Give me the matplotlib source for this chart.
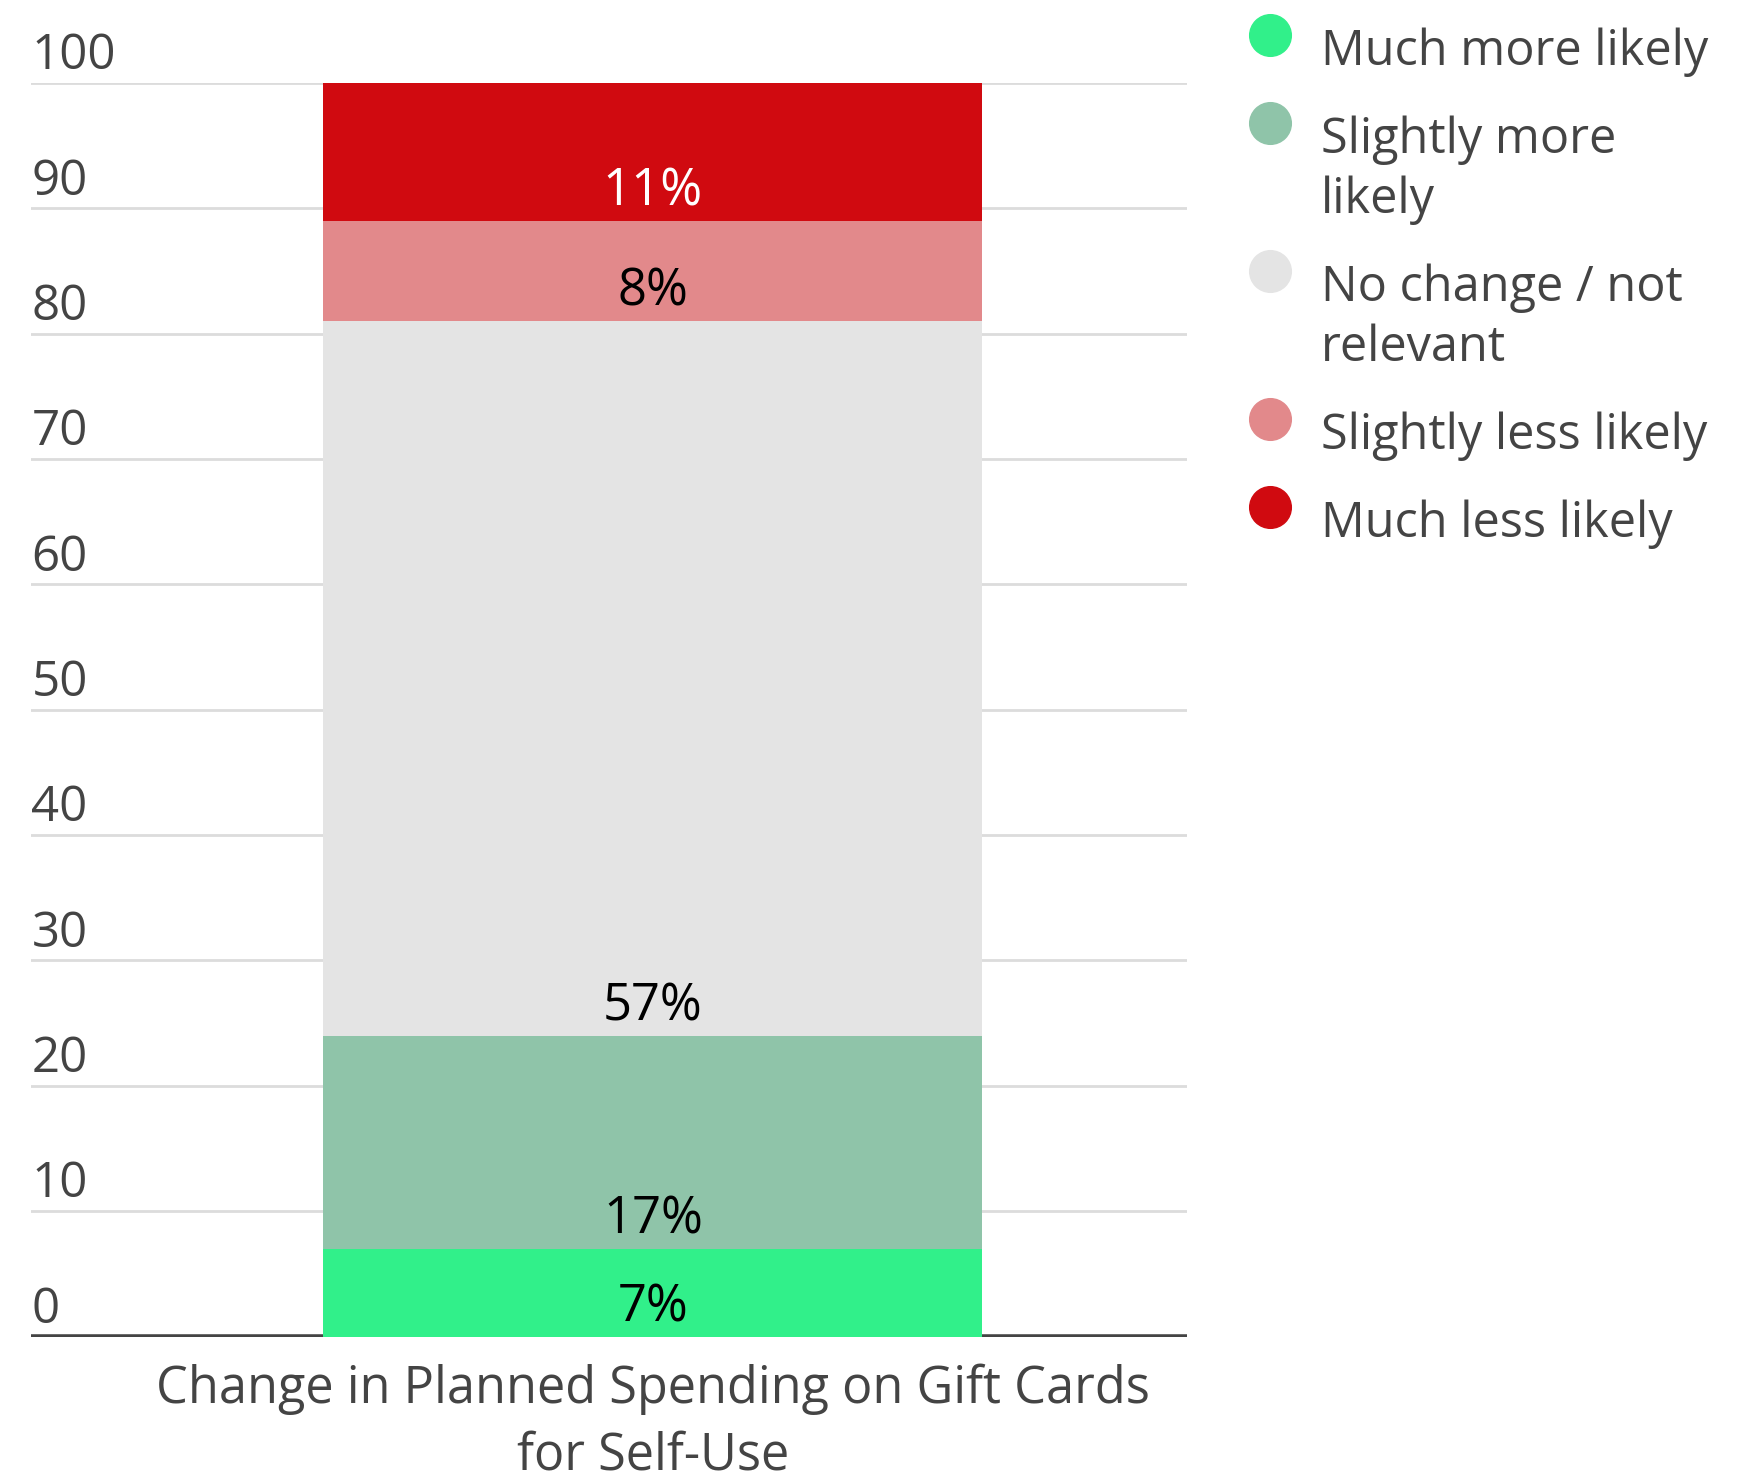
import matplotlib.pyplot as plt
from matplotlib import transforms

plt.rcParams['font.family'] = ['Open Sans', 'DejaVu Sans']

# Survey response shares (percent), stacked bottom to top
responses = ['Much more likely', 'Slightly more\nlikely', 'No change / not\nrelevant',
             'Slightly less likely', 'Much less likely']
shares = [7, 17, 57, 8, 11]
colors = ['#31F08A', '#8FC4A9', '#E4E4E4', '#E2898B', '#D00A10']
label_colors = ['black', 'black', 'black', 'black', 'white']
category = 'Change in Planned Spending on Gift Cards\nfor Self-Use'
y_ticks = [0, 10, 20, 30, 40, 50, 60, 70, 80, 90, 100]

fig = plt.figure(figsize=(17.61, 14.76), dpi=100)
ax = fig.add_axes([0.0178, 0.0945, 0.656, 0.8492])
ax.set_xlim(-0.538, 0.462)
ax.set_ylim(0, 100)

# gridlines and y tick labels sitting above each line
ytrans = transforms.blended_transform_factory(ax.transAxes, ax.transData)
for v in y_ticks[1:]:
    ax.axhline(v, color='#DCDCDC', lw=2, zorder=0)
for v in y_ticks:
    ax.annotate(str(v), xy=(0, v), xycoords=ytrans, xytext=(0, 10),
                textcoords='offset points', ha='left', va='baseline',
                fontsize=35.5, color='#444444', annotation_clip=False)
ax.axhline(0, color='#444444', lw=4, zorder=1)

# stacked bar with labels near the bottom of each segment
bottom = 0
for share, color, tc in zip(shares, colors, label_colors):
    ax.bar(0, share, width=0.5705, bottom=bottom, color=color, zorder=2)
    ax.annotate(f'{share}%', xy=(0, bottom), xytext=(0, 11),
                textcoords='offset points', ha='center', va='baseline',
                fontsize=36.5, color=tc, zorder=3)
    bottom += share

# category name under the bar, one line at a time
xtrans = transforms.blended_transform_factory(ax.transData, ax.transAxes)
for i, line in enumerate(category.split('\n')):
    ax.annotate(line, xy=(0, 0), xycoords=xtrans, xytext=(0, -48 - i * 48),
                textcoords='offset points', ha='center', va='baseline',
                fontsize=36.4, color='#444444', annotation_clip=False)

for s in ax.spines.values():
    s.set_visible(False)
ax.set_xticks([])
ax.set_yticks([])

# legend drawn by hand: dot plus wrapped text, one line per row
line_h = 60.6 / 1476
gap = 27 / 1476
y = 1 - 65 / 1476
for name, color in zip(responses, colors):
    fig.add_artist(plt.Line2D([1270 / 1761], [y + 30 / 1476], marker='o',
                              markersize=30, color=color, linestyle='none',
                              transform=fig.transFigure))
    lines = name.split('\n')
    for i, line in enumerate(lines):
        fig.text(1321 / 1761, y - i * line_h, line, fontsize=35,
                 color='#444444', ha='left', va='baseline')
    y -= len(lines) * line_h + gap

fig.savefig('out.png', dpi=100)
